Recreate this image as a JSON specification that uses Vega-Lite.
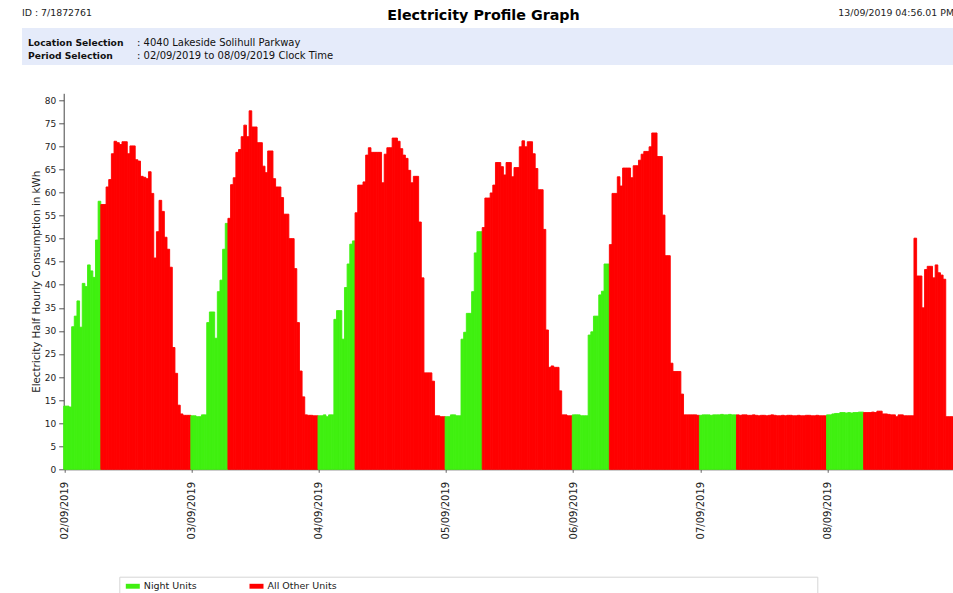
{
  "$schema": "https://vega.github.io/schema/vega-lite/v6.json",
  "padding": {"left": 22, "top": 0, "right": 0, "bottom": 0},
  "config": {"view": {"stroke": null}, "font": "DejaVu Sans"},
  "spacing": 28.3,
  "resolve": {"scale": {"color": "independent", "stroke": "independent"}, "legend": {"color": "independent"}},
  "vconcat": [
    {
      "spacing": 0,
      "vconcat": [
        {
          "width": 931,
          "height": 28,
          "data": {"values": [{"id": "ID : 7/1872761", "title": "Electricity Profile Graph", "stamp": "13/09/2019 04:56.01 PM"}]},
          "layer": [
            {"mark": {"type": "text", "align": "left", "baseline": "middle", "fontSize": 9.4, "color": "#222", "dy": -1}, "encoding": {"x": {"value": 0}, "text": {"field": "id"}}},
            {"mark": {"type": "text", "align": "center", "baseline": "middle", "fontSize": 14.3, "fontWeight": "bold", "color": "#000", "dy": 2, "dx": -4}, "encoding": {"text": {"field": "title"}}},
            {"mark": {"type": "text", "align": "right", "baseline": "middle", "fontSize": 9.4, "color": "#222", "dy": -1, "dx": 1}, "encoding": {"x": {"value": "width"}, "text": {"field": "stamp"}}}
          ]
        },
        {
          "width": 931,
          "height": 37,
          "view": {"fill": "#e5ebfa", "stroke": null},
          "data": {"values": [
            {"k": "Location Selection", "t": ": 4040 Lakeside Solihull Parkway"},
            {"k": "Period Selection", "t": ": 02/09/2019 to 08/09/2019 Clock Time"}
          ]},
          "encoding": {"y": {"field": "k", "type": "nominal", "sort": null, "axis": null, "scale": {"type": "point", "padding": 0.87, "align": 0.63}}},
          "layer": [
            {"mark": {"type": "text", "align": "left", "baseline": "middle", "fontSize": 9.2, "fontWeight": "bold", "color": "#111"}, "encoding": {"x": {"value": 6}, "text": {"field": "k"}}},
            {"mark": {"type": "text", "align": "left", "baseline": "middle", "fontSize": 10, "color": "#111"}, "encoding": {"x": {"value": 115}, "text": {"field": "t"}}}
          ]
        }
      ]
    },
    {
      "spacing": 36.4,
      "resolve": {"scale": {"color": "independent", "stroke": "independent"}, "legend": {"color": "independent"}},
      "vconcat": [
        {
          "spacing": 7.7,
          "resolve": {"scale": {"color": "independent", "stroke": "independent"}, "legend": {"color": "independent"}},
          "hconcat": [
            {
              "width": 1,
              "height": 1,
              "data": {"values": [{"s": 0}]},
              "mark": {"type": "point", "size": 0, "opacity": 0}
            },
            {
              "width": 890,
              "height": 376,
              "data": {"values": [
                {"i":0,"v":13.7,"u":"Night Units"},{"i":1,"v":13.7,"u":"Night Units"},{"i":2,"v":13.5,"u":"Night Units"},{"i":3,"v":30.9,"u":"Night Units"},{"i":4,"v":33.2,"u":"Night Units"},{"i":5,"v":36.5,"u":"Night Units"},{"i":6,"v":30.8,"u":"Night Units"},{"i":7,"v":40.3,"u":"Night Units"},{"i":8,"v":39.6,"u":"Night Units"},{"i":9,"v":44.3,"u":"Night Units"},{"i":10,"v":43.0,"u":"Night Units"},{"i":11,"v":41.6,"u":"Night Units"},{"i":12,"v":49.7,"u":"Night Units"},{"i":13,"v":58.1,"u":"Night Units"},
                {"i":14,"v":57.4,"u":"All Other Units"},{"i":15,"v":57.4,"u":"All Other Units"},{"i":16,"v":61.2,"u":"All Other Units"},{"i":17,"v":62.8,"u":"All Other Units"},{"i":18,"v":68.4,"u":"All Other Units"},{"i":19,"v":71.1,"u":"All Other Units"},{"i":20,"v":70.8,"u":"All Other Units"},{"i":21,"v":70.4,"u":"All Other Units"},{"i":22,"v":71.0,"u":"All Other Units"},{"i":23,"v":71.0,"u":"All Other Units"},{"i":24,"v":68.4,"u":"All Other Units"},{"i":25,"v":70.1,"u":"All Other Units"},{"i":26,"v":70.1,"u":"All Other Units"},{"i":27,"v":67.1,"u":"All Other Units"},{"i":28,"v":66.8,"u":"All Other Units"},{"i":29,"v":63.5,"u":"All Other Units"},{"i":30,"v":63.3,"u":"All Other Units"},{"i":31,"v":63.0,"u":"All Other Units"},{"i":32,"v":64.5,"u":"All Other Units"},{"i":33,"v":59.8,"u":"All Other Units"},{"i":34,"v":45.8,"u":"All Other Units"},{"i":35,"v":51.5,"u":"All Other Units"},{"i":36,"v":58.3,"u":"All Other Units"},{"i":37,"v":55.9,"u":"All Other Units"},{"i":38,"v":50.3,"u":"All Other Units"},{"i":39,"v":47.7,"u":"All Other Units"},{"i":40,"v":43.8,"u":"All Other Units"},{"i":41,"v":26.4,"u":"All Other Units"},{"i":42,"v":20.8,"u":"All Other Units"},{"i":43,"v":13.9,"u":"All Other Units"},{"i":44,"v":12.0,"u":"All Other Units"},{"i":45,"v":11.7,"u":"All Other Units"},{"i":46,"v":11.7,"u":"All Other Units"},{"i":47,"v":11.7,"u":"All Other Units"},
                {"i":48,"v":11.6,"u":"Night Units"},{"i":49,"v":11.6,"u":"Night Units"},{"i":50,"v":11.4,"u":"Night Units"},{"i":51,"v":11.4,"u":"Night Units"},{"i":52,"v":11.8,"u":"Night Units"},{"i":53,"v":11.8,"u":"Night Units"},{"i":54,"v":31.8,"u":"Night Units"},{"i":55,"v":34.1,"u":"Night Units"},{"i":56,"v":34.1,"u":"Night Units"},{"i":57,"v":28.4,"u":"Night Units"},{"i":58,"v":38.5,"u":"Night Units"},{"i":59,"v":41.0,"u":"Night Units"},{"i":60,"v":47.7,"u":"Night Units"},{"i":61,"v":53.3,"u":"Night Units"},
                {"i":62,"v":54.4,"u":"All Other Units"},{"i":63,"v":61.7,"u":"All Other Units"},{"i":64,"v":63.2,"u":"All Other Units"},{"i":65,"v":68.7,"u":"All Other Units"},{"i":66,"v":69.3,"u":"All Other Units"},{"i":67,"v":72.1,"u":"All Other Units"},{"i":68,"v":74.6,"u":"All Other Units"},{"i":69,"v":72.1,"u":"All Other Units"},{"i":70,"v":77.7,"u":"All Other Units"},{"i":71,"v":74.2,"u":"All Other Units"},{"i":72,"v":74.2,"u":"All Other Units"},{"i":73,"v":70.8,"u":"All Other Units"},{"i":74,"v":70.8,"u":"All Other Units"},{"i":75,"v":65.7,"u":"All Other Units"},{"i":76,"v":64.3,"u":"All Other Units"},{"i":77,"v":69.0,"u":"All Other Units"},{"i":78,"v":69.0,"u":"All Other Units"},{"i":79,"v":63.0,"u":"All Other Units"},{"i":80,"v":61.2,"u":"All Other Units"},{"i":81,"v":61.2,"u":"All Other Units"},{"i":82,"v":58.9,"u":"All Other Units"},{"i":83,"v":55.3,"u":"All Other Units"},{"i":84,"v":55.3,"u":"All Other Units"},{"i":85,"v":50.0,"u":"All Other Units"},{"i":86,"v":50.0,"u":"All Other Units"},{"i":87,"v":43.5,"u":"All Other Units"},{"i":88,"v":31.8,"u":"All Other Units"},{"i":89,"v":21.3,"u":"All Other Units"},{"i":90,"v":15.7,"u":"All Other Units"},{"i":91,"v":11.8,"u":"All Other Units"},{"i":92,"v":11.7,"u":"All Other Units"},{"i":93,"v":11.7,"u":"All Other Units"},{"i":94,"v":11.6,"u":"All Other Units"},{"i":95,"v":11.6,"u":"All Other Units"},
                {"i":96,"v":11.6,"u":"Night Units"},{"i":97,"v":11.6,"u":"Night Units"},{"i":98,"v":11.8,"u":"Night Units"},{"i":99,"v":11.4,"u":"Night Units"},{"i":100,"v":11.8,"u":"Night Units"},{"i":101,"v":11.8,"u":"Night Units"},{"i":102,"v":32.5,"u":"Night Units"},{"i":103,"v":34.4,"u":"Night Units"},{"i":104,"v":34.4,"u":"Night Units"},{"i":105,"v":28.2,"u":"Night Units"},{"i":106,"v":39.4,"u":"Night Units"},{"i":107,"v":44.5,"u":"Night Units"},{"i":108,"v":48.8,"u":"Night Units"},{"i":109,"v":49.5,"u":"Night Units"},
                {"i":110,"v":55.6,"u":"All Other Units"},{"i":111,"v":61.6,"u":"All Other Units"},{"i":112,"v":61.6,"u":"All Other Units"},{"i":113,"v":62.3,"u":"All Other Units"},{"i":114,"v":68.1,"u":"All Other Units"},{"i":115,"v":69.7,"u":"All Other Units"},{"i":116,"v":68.7,"u":"All Other Units"},{"i":117,"v":68.7,"u":"All Other Units"},{"i":118,"v":68.7,"u":"All Other Units"},{"i":119,"v":68.7,"u":"All Other Units"},{"i":120,"v":62.1,"u":"All Other Units"},{"i":121,"v":68.3,"u":"All Other Units"},{"i":122,"v":69.7,"u":"All Other Units"},{"i":123,"v":69.7,"u":"All Other Units"},{"i":124,"v":71.8,"u":"All Other Units"},{"i":125,"v":71.8,"u":"All Other Units"},{"i":126,"v":71.1,"u":"All Other Units"},{"i":127,"v":69.5,"u":"All Other Units"},{"i":128,"v":68.1,"u":"All Other Units"},{"i":129,"v":67.4,"u":"All Other Units"},{"i":130,"v":64.8,"u":"All Other Units"},{"i":131,"v":62.1,"u":"All Other Units"},{"i":132,"v":63.5,"u":"All Other Units"},{"i":133,"v":63.5,"u":"All Other Units"},{"i":134,"v":53.6,"u":"All Other Units"},{"i":135,"v":41.5,"u":"All Other Units"},{"i":136,"v":20.9,"u":"All Other Units"},{"i":137,"v":20.9,"u":"All Other Units"},{"i":138,"v":20.9,"u":"All Other Units"},{"i":139,"v":19.1,"u":"All Other Units"},{"i":140,"v":11.6,"u":"All Other Units"},{"i":141,"v":11.6,"u":"All Other Units"},{"i":142,"v":11.4,"u":"All Other Units"},{"i":143,"v":11.4,"u":"All Other Units"},
                {"i":144,"v":11.4,"u":"Night Units"},{"i":145,"v":11.4,"u":"Night Units"},{"i":146,"v":11.8,"u":"Night Units"},{"i":147,"v":11.8,"u":"Night Units"},{"i":148,"v":11.6,"u":"Night Units"},{"i":149,"v":11.6,"u":"Night Units"},{"i":150,"v":28.2,"u":"Night Units"},{"i":151,"v":29.7,"u":"Night Units"},{"i":152,"v":33.8,"u":"Night Units"},{"i":153,"v":33.8,"u":"Night Units"},{"i":154,"v":38.5,"u":"Night Units"},{"i":155,"v":46.9,"u":"Night Units"},{"i":156,"v":51.5,"u":"Night Units"},{"i":157,"v":51.5,"u":"Night Units"},
                {"i":158,"v":52.4,"u":"All Other Units"},{"i":159,"v":58.8,"u":"All Other Units"},{"i":160,"v":58.8,"u":"All Other Units"},{"i":161,"v":59.9,"u":"All Other Units"},{"i":162,"v":61.6,"u":"All Other Units"},{"i":163,"v":66.5,"u":"All Other Units"},{"i":164,"v":66.5,"u":"All Other Units"},{"i":165,"v":65.6,"u":"All Other Units"},{"i":166,"v":63.8,"u":"All Other Units"},{"i":167,"v":66.5,"u":"All Other Units"},{"i":168,"v":66.5,"u":"All Other Units"},{"i":169,"v":63.4,"u":"All Other Units"},{"i":170,"v":65.4,"u":"All Other Units"},{"i":171,"v":65.4,"u":"All Other Units"},{"i":172,"v":69.9,"u":"All Other Units"},{"i":173,"v":71.2,"u":"All Other Units"},{"i":174,"v":69.9,"u":"All Other Units"},{"i":175,"v":71.0,"u":"All Other Units"},{"i":176,"v":71.0,"u":"All Other Units"},{"i":177,"v":68.4,"u":"All Other Units"},{"i":178,"v":65.2,"u":"All Other Units"},{"i":179,"v":60.6,"u":"All Other Units"},{"i":180,"v":60.6,"u":"All Other Units"},{"i":181,"v":52.0,"u":"All Other Units"},{"i":182,"v":30.2,"u":"All Other Units"},{"i":183,"v":22.1,"u":"All Other Units"},{"i":184,"v":22.4,"u":"All Other Units"},{"i":185,"v":22.1,"u":"All Other Units"},{"i":186,"v":22.1,"u":"All Other Units"},{"i":187,"v":17.0,"u":"All Other Units"},{"i":188,"v":11.8,"u":"All Other Units"},{"i":189,"v":11.8,"u":"All Other Units"},{"i":190,"v":11.6,"u":"All Other Units"},{"i":191,"v":11.6,"u":"All Other Units"},
                {"i":192,"v":11.8,"u":"Night Units"},{"i":193,"v":11.8,"u":"Night Units"},{"i":194,"v":11.8,"u":"Night Units"},{"i":195,"v":11.6,"u":"Night Units"},{"i":196,"v":11.6,"u":"Night Units"},{"i":197,"v":11.6,"u":"Night Units"},{"i":198,"v":29.1,"u":"Night Units"},{"i":199,"v":29.8,"u":"Night Units"},{"i":200,"v":33.2,"u":"Night Units"},{"i":201,"v":33.2,"u":"Night Units"},{"i":202,"v":37.8,"u":"Night Units"},{"i":203,"v":38.6,"u":"Night Units"},{"i":204,"v":44.5,"u":"Night Units"},{"i":205,"v":44.5,"u":"Night Units"},
                {"i":206,"v":48.7,"u":"All Other Units"},{"i":207,"v":59.8,"u":"All Other Units"},{"i":208,"v":59.8,"u":"All Other Units"},{"i":209,"v":63.4,"u":"All Other Units"},{"i":210,"v":61.4,"u":"All Other Units"},{"i":211,"v":65.3,"u":"All Other Units"},{"i":212,"v":65.3,"u":"All Other Units"},{"i":213,"v":65.3,"u":"All Other Units"},{"i":214,"v":63.2,"u":"All Other Units"},{"i":215,"v":65.8,"u":"All Other Units"},{"i":216,"v":65.8,"u":"All Other Units"},{"i":217,"v":67.0,"u":"All Other Units"},{"i":218,"v":68.3,"u":"All Other Units"},{"i":219,"v":68.9,"u":"All Other Units"},{"i":220,"v":68.9,"u":"All Other Units"},{"i":221,"v":69.9,"u":"All Other Units"},{"i":222,"v":72.9,"u":"All Other Units"},{"i":223,"v":72.9,"u":"All Other Units"},{"i":224,"v":67.8,"u":"All Other Units"},{"i":225,"v":67.8,"u":"All Other Units"},{"i":226,"v":55.1,"u":"All Other Units"},{"i":227,"v":46.3,"u":"All Other Units"},{"i":228,"v":46.3,"u":"All Other Units"},{"i":229,"v":23.0,"u":"All Other Units"},{"i":230,"v":21.2,"u":"All Other Units"},{"i":231,"v":21.2,"u":"All Other Units"},{"i":232,"v":21.2,"u":"All Other Units"},{"i":233,"v":16.3,"u":"All Other Units"},{"i":234,"v":11.8,"u":"All Other Units"},{"i":235,"v":11.8,"u":"All Other Units"},{"i":236,"v":11.8,"u":"All Other Units"},{"i":237,"v":11.8,"u":"All Other Units"},{"i":238,"v":11.8,"u":"All Other Units"},{"i":239,"v":11.7,"u":"All Other Units"},
                {"i":240,"v":11.7,"u":"Night Units"},{"i":241,"v":11.8,"u":"Night Units"},{"i":242,"v":11.8,"u":"Night Units"},{"i":243,"v":11.8,"u":"Night Units"},{"i":244,"v":11.7,"u":"Night Units"},{"i":245,"v":11.8,"u":"Night Units"},{"i":246,"v":11.8,"u":"Night Units"},{"i":247,"v":11.8,"u":"Night Units"},{"i":248,"v":11.9,"u":"Night Units"},{"i":249,"v":11.8,"u":"Night Units"},{"i":250,"v":11.8,"u":"Night Units"},{"i":251,"v":11.9,"u":"Night Units"},{"i":252,"v":11.8,"u":"Night Units"},{"i":253,"v":11.8,"u":"Night Units"},
                {"i":254,"v":11.8,"u":"All Other Units"},{"i":255,"v":11.7,"u":"All Other Units"},{"i":256,"v":11.8,"u":"All Other Units"},{"i":257,"v":11.8,"u":"All Other Units"},{"i":258,"v":11.7,"u":"All Other Units"},{"i":259,"v":11.7,"u":"All Other Units"},{"i":260,"v":11.8,"u":"All Other Units"},{"i":261,"v":11.7,"u":"All Other Units"},{"i":262,"v":11.6,"u":"All Other Units"},{"i":263,"v":11.7,"u":"All Other Units"},{"i":264,"v":11.7,"u":"All Other Units"},{"i":265,"v":11.6,"u":"All Other Units"},{"i":266,"v":11.7,"u":"All Other Units"},{"i":267,"v":11.8,"u":"All Other Units"},{"i":268,"v":11.7,"u":"All Other Units"},{"i":269,"v":11.6,"u":"All Other Units"},{"i":270,"v":11.6,"u":"All Other Units"},{"i":271,"v":11.7,"u":"All Other Units"},{"i":272,"v":11.6,"u":"All Other Units"},{"i":273,"v":11.7,"u":"All Other Units"},{"i":274,"v":11.7,"u":"All Other Units"},{"i":275,"v":11.6,"u":"All Other Units"},{"i":276,"v":11.6,"u":"All Other Units"},{"i":277,"v":11.7,"u":"All Other Units"},{"i":278,"v":11.6,"u":"All Other Units"},{"i":279,"v":11.6,"u":"All Other Units"},{"i":280,"v":11.7,"u":"All Other Units"},{"i":281,"v":11.7,"u":"All Other Units"},{"i":282,"v":11.6,"u":"All Other Units"},{"i":283,"v":11.6,"u":"All Other Units"},{"i":284,"v":11.7,"u":"All Other Units"},{"i":285,"v":11.6,"u":"All Other Units"},{"i":286,"v":11.6,"u":"All Other Units"},{"i":287,"v":11.6,"u":"All Other Units"},
                {"i":288,"v":11.8,"u":"Night Units"},{"i":289,"v":11.8,"u":"Night Units"},{"i":290,"v":12.0,"u":"Night Units"},{"i":291,"v":12.1,"u":"Night Units"},{"i":292,"v":12.1,"u":"Night Units"},{"i":293,"v":12.3,"u":"Night Units"},{"i":294,"v":12.3,"u":"Night Units"},{"i":295,"v":12.2,"u":"Night Units"},{"i":296,"v":12.3,"u":"Night Units"},{"i":297,"v":12.2,"u":"Night Units"},{"i":298,"v":12.3,"u":"Night Units"},{"i":299,"v":12.3,"u":"Night Units"},{"i":300,"v":12.4,"u":"Night Units"},{"i":301,"v":12.4,"u":"Night Units"},
                {"i":302,"v":12.3,"u":"All Other Units"},{"i":303,"v":12.3,"u":"All Other Units"},{"i":304,"v":12.3,"u":"All Other Units"},{"i":305,"v":12.4,"u":"All Other Units"},{"i":306,"v":12.3,"u":"All Other Units"},{"i":307,"v":12.6,"u":"All Other Units"},{"i":308,"v":12.6,"u":"All Other Units"},{"i":309,"v":12.0,"u":"All Other Units"},{"i":310,"v":12.0,"u":"All Other Units"},{"i":311,"v":11.9,"u":"All Other Units"},{"i":312,"v":11.8,"u":"All Other Units"},{"i":313,"v":11.8,"u":"All Other Units"},{"i":314,"v":11.4,"u":"All Other Units"},{"i":315,"v":11.8,"u":"All Other Units"},{"i":316,"v":11.8,"u":"All Other Units"},{"i":317,"v":11.6,"u":"All Other Units"},{"i":318,"v":11.6,"u":"All Other Units"},{"i":319,"v":11.6,"u":"All Other Units"},{"i":320,"v":11.6,"u":"All Other Units"},{"i":321,"v":50.1,"u":"All Other Units"},{"i":322,"v":41.9,"u":"All Other Units"},{"i":323,"v":41.9,"u":"All Other Units"},{"i":324,"v":35.0,"u":"All Other Units"},{"i":325,"v":43.3,"u":"All Other Units"},{"i":326,"v":44.0,"u":"All Other Units"},{"i":327,"v":44.0,"u":"All Other Units"},{"i":328,"v":41.5,"u":"All Other Units"},{"i":329,"v":44.3,"u":"All Other Units"},{"i":330,"v":42.6,"u":"All Other Units"},{"i":331,"v":42.1,"u":"All Other Units"},{"i":332,"v":41.2,"u":"All Other Units"},{"i":333,"v":11.4,"u":"All Other Units"},{"i":334,"v":11.4,"u":"All Other Units"},{"i":335,"v":11.4,"u":"All Other Units"}
              ]},
              "mark": {"type": "bar", "strokeWidth": 0.9},
              "encoding": {
                "x": {
                  "field": "i", "type": "ordinal",
                  "scale": {"paddingInner": 0, "paddingOuter": 0},
                  "axis": {
                    "values": [0, 48, 96, 144, 192, 240, 288],
                    "labelExpr": "['02/09/2019','03/09/2019','04/09/2019','05/09/2019','06/09/2019','07/09/2019','08/09/2019'][floor(datum.value / 48)]",
                    "labelAngle": -90, "labelFontSize": 10, "labelColor": "#222",
                    "tickSize": 3, "tickColor": "#666", "domainColor": "#555", "labelPadding": 9, "title": null
                  }
                },
                "y": {
                  "field": "v", "type": "quantitative",
                  "scale": {"domain": [0, 81.5], "nice": false},
                  "axis": {
                    "values": [0, 5, 10, 15, 20, 25, 30, 35, 40, 45, 50, 55, 60, 65, 70, 75, 80],
                    "title": "Electricity Half Hourly Consumption in kWh",
                    "titleFontSize": 10.3, "titleFontWeight": "normal", "titleColor": "#222", "titlePadding": 3,
                    "labelFontSize": 9, "labelColor": "#222", "labelPadding": 3,
                    "tickSize": 5, "tickColor": "#555", "domainColor": "#444", "grid": false
                  }
                },
                "color": {
                  "field": "u", "type": "nominal",
                  "scale": {"domain": ["Night Units", "All Other Units"], "range": ["#40f010", "#ff0000"]},
                  "legend": null
                },
                "stroke": {
                  "field": "u", "type": "nominal",
                  "scale": {"domain": ["Night Units", "All Other Units"], "range": ["#40f010", "#ff0000"]},
                  "legend": null
                }
              }
            }
          ]
        },
        {
          "spacing": 95.3,
          "resolve": {"scale": {"color": "independent"}, "legend": {"color": "independent"}},
          "hconcat": [
            {
              "width": 1,
              "height": 1,
              "data": {"values": [{"s": 0}]},
              "mark": {"type": "point", "size": 0, "opacity": 0}
            },
            {
              "width": 698,
              "height": 40,
              "view": {"stroke": "#d6d6d6", "strokeWidth": 1, "fill": "#ffffff"},
              "data": {"values": [{"u": "Night Units"}, {"u": "All Other Units"}]},
              "mark": {"type": "square", "size": 0, "opacity": 1, "filled": true},
              "encoding": {
                "color": {
                  "field": "u", "type": "nominal",
                  "scale": {"domain": ["Night Units", "All Other Units"], "range": ["#40f010", "#ff0000"]},
                  "legend": {
                    "orient": "none", "legendX": 4.2, "legendY": 0, "direction": "horizontal", "title": null,
                    "padding": 2.3, "symbolOpacity": 1,
                    "symbolType": "M-1,-0.35H1V0.35H-1Z", "symbolSize": 196, "symbolStrokeWidth": 0,
                    "labelFontSize": 9.5, "labelColor": "#222", "labelOffset": 4, "columnPadding": 52.7
                  }
                }
              }
            }
          ]
        }
      ]
    }
  ]
}
